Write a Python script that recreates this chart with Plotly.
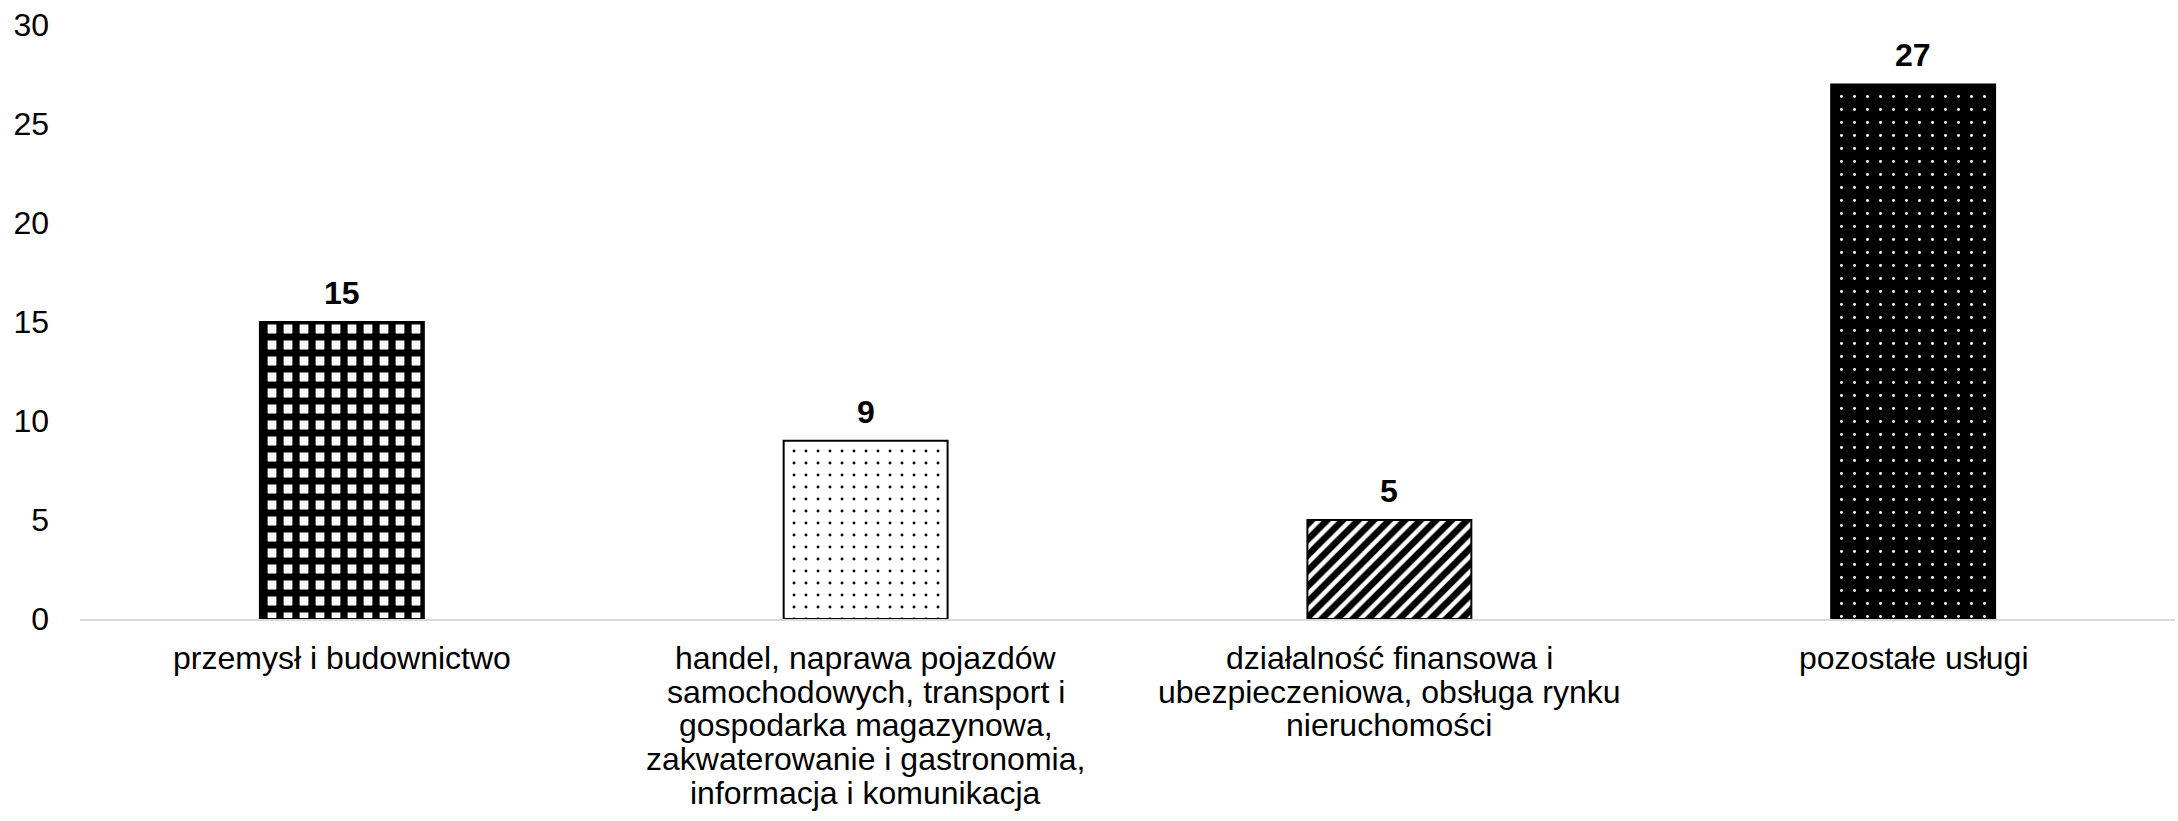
import plotly.graph_objects as go

# ---- data ----
categories = [
    "przemysł i budownictwo",
    "handel, naprawa pojazdów samochodowych, transport i gospodarka magazynowa, zakwaterowanie i gastronomia, informacja i komunikacja",
    "działalność finansowa i ubezpieczeniowa, obsługa rynku nieruchomości",
    "pozostałe usługi",
]
category_lines = [
    ["przemysł i budownictwo"],
    ["handel, naprawa pojazdów", "samochodowych, transport i", "gospodarka magazynowa,",
     "zakwaterowanie i gastronomia,", "informacja i komunikacja"],
    ["działalność finansowa i", "ubezpieczeniowa, obsługa rynku", "nieruchomości"],
    ["pozostałe usługi"],
]
values = [15, 9, 5, 27]
y_tick_vals = [0, 5, 10, 15, 20, 25, 30]

# ---- styles ----
FONT = "Arial, Liberation Sans, sans-serif"
patterns = [
    dict(shape="+", fgcolor="black", bgcolor="white", size=16, solidity=0.7, fgopacity=1),
    dict(shape=".", fgcolor="black", bgcolor="white", size=12, solidity=0.045, fgopacity=1),
    dict(shape="/", fgcolor="black", bgcolor="white", size=11, solidity=0.6, fgopacity=1),
    dict(shape=".", fgcolor="white", bgcolor="black", size=13, solidity=0.04, fgopacity=1),
]

fig = go.Figure()
for cat, val, pat in zip(categories, values, patterns):
    fig.add_trace(go.Bar(
        x=[cat], y=[val],
        marker=dict(color=pat["bgcolor"], pattern=pat,
                    line=dict(color="black", width=2)),
        showlegend=False, hoverinfo="skip",
    ))

annotations = []
# value labels
for cat, val in zip(categories, values):
    annotations.append(dict(
        x=cat, y=val, xref="x", yref="y", text=f"<b>{val}</b>", showarrow=False,
        yanchor="middle", yshift=29, font=dict(family=FONT, size=32, color="black"),
    ))
# category labels (one annotation per line for tight line spacing)
for cat, lines in zip(categories, category_lines):
    for i, line in enumerate(lines):
        annotations.append(dict(
            x=cat, y=0, xref="x", yref="y", text=line, showarrow=False,
            yanchor="middle", yshift=-(39 + i * 33.7),
            font=dict(family=FONT, size=32, color="black"),
        ))

fig.update_layout(
    width=2178, height=821, autosize=False,
    margin=dict(l=80, r=3, t=25, b=202),
    paper_bgcolor="white", plot_bgcolor="white",
    barmode="overlay", bargap=0.687,
    font=dict(family=FONT, size=32, color="black"),
    annotations=annotations,
    xaxis=dict(
        type="category", categoryorder="array", categoryarray=categories,
        showticklabels=False, ticks="", showgrid=False, zeroline=False,
        showline=True, linecolor="#d9d9d9", linewidth=2,
    ),
    yaxis=dict(
        range=[0, 30], tickvals=y_tick_vals, ticks="", showgrid=False,
        zeroline=False, showline=False, ticklabelstandoff=30,
        tickfont=dict(family=FONT, size=32, color="black"),
    ),
)

fig.write_html("out.html", config={"displayModeBar": False},
               post_script="document.body.style.margin='0';")
